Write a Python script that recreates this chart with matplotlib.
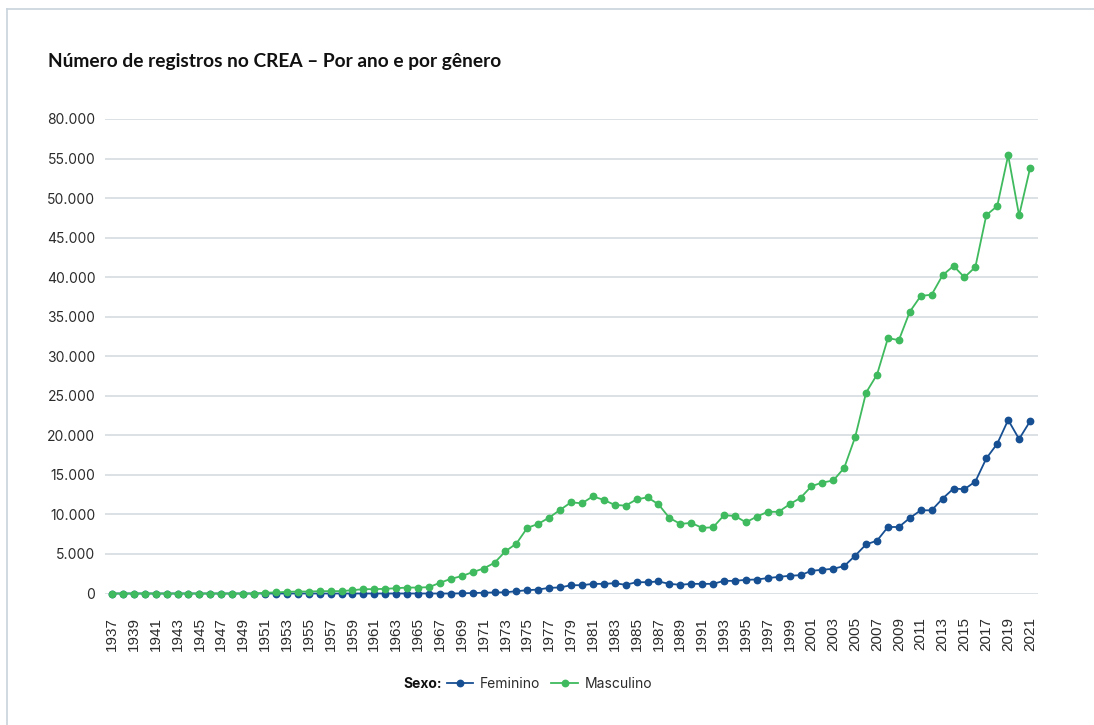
import numpy as np
import matplotlib
matplotlib.use("Agg")
import matplotlib.pyplot as plt
from matplotlib.lines import Line2D

plt.rcParams['font.family'] = ['Inter', 'DejaVu Sans']

years = list(range(1937, 2022))

# Feminino (valores estimados do gráfico)
feminino = [0] * 14 + [
    0, 0, 0, 0, 0, 0, 0, 0, 0, 0,          # 1951-1960
    0, 0, 0, 0, 0, 0, 0, 0, 20, 60,        # 1961-1970
    100, 130, 150, 290, 420, 500, 720, 760, 1050, 1050,   # 1971-1980
    1220, 1220, 1300, 1100, 1430, 1430, 1520, 1220, 1100, 1220,  # 1981-1990
    1220, 1220, 1600, 1600, 1730, 1770, 1950, 2100, 2240, 2320,  # 1991-2000
    2870, 3000, 3130, 3470, 4780, 6210, 6680, 8410, 8410, 9550,  # 2001-2010
    10520, 10520, 12000, 13270, 13190, 14160, 17080, 18940, 21940, 19530,  # 2011-2020
    21770,                                  # 2021
]

# Masculino
masculino = [0] * 14 + [
    100, 130, 210, 250, 250, 290, 300, 300, 420, 550,          # 1951-1960
    550, 590, 670, 750, 750, 800, 1350, 1850, 2200, 2700,      # 1961-1970
    3160, 3880, 5340, 6310, 8300, 8800, 9600, 10570, 11530, 11400,  # 1971-1980
    12290, 11830, 11200, 11110, 11900, 12160, 11280, 9560, 8800, 8930,  # 1981-1990
    8300, 8370, 9890, 9810, 9000, 9720, 10330, 10330, 11280, 12090,  # 1991-2000
    13570, 14030, 14290, 15890, 19780, 25400, 27680, 32290, 32040, 35630,  # 2001-2010
    37620, 37790, 40240, 41420, 39980, 41290, 47840, 48990, 55410, 47800,  # 2011-2020
    53760,                                  # 2021
]

y_ticks = list(range(0, 60001, 5000))
y_labels = ['0', '5.000', '10.000', '15.000', '20.000', '25.000', '30.000',
            '35.000', '40.000', '45.000', '50.000', '55.000', '80.000']

blue = '#174f93'
green = '#3fba5e'

fig = plt.figure(figsize=(10.94, 7.25), dpi=100)
ax = fig.add_axes([105 / 1094, 1 - 593.5 / 725, (1038 - 105) / 1094, (593.5 - 119) / 725])

ax.plot(years, feminino, color=blue, marker='o', markersize=4.6, linewidth=1.3,
        label='Feminino', clip_on=False, zorder=3)
ax.plot(years, masculino, color=green, marker='o', markersize=4.6, linewidth=1.3,
        label='Masculino', clip_on=False, zorder=4)

ax.set_xlim(1936.36, 2021.73)
ax.set_ylim(0, 60000)
ax.set_yticks(y_ticks)
ax.set_yticklabels(y_labels)
ax.set_xticks(years[::2])
ax.set_xticklabels([str(y) for y in years[::2]], rotation=90,
                   family=['Liberation Sans', 'DejaVu Sans'], fontsize=11)
ax.tick_params(axis='both', length=0, colors='#2b2b2b')
ax.tick_params(axis='y', pad=7, labelsize=10)
ax.tick_params(axis='x', pad=17)
ax.grid(axis='y', color='#d5dbe0', linewidth=1.2)
ax.set_axisbelow(True)
for s in ax.spines.values():
    s.set_visible(False)

fig.text(48 / 1094, 1 - 62 / 725, 'Número de registros no CREA – Por ano e por gênero',
         fontsize=13.8, fontweight='bold', color='#111111', va='center', ha='left',
         family=['Lato', 'DejaVu Sans'])

# borda do cartão
fig.add_artist(Line2D([7 / 1094, 7 / 1094], [0, 1 - 9 / 725], color='#c9d3dc', linewidth=1.2))
fig.add_artist(Line2D([7 / 1094, 1], [1 - 9 / 725, 1 - 9 / 725], color='#c9d3dc', linewidth=1.2))

fig.text(403 / 1094, 1 - 684 / 725, 'Sexo:', fontsize=10, fontweight='bold',
         va='center', ha='left', color='#111111')
fig.legend(loc='center left', bbox_to_anchor=(434 / 1094, 1 - 684 / 725), ncol=2,
           frameon=False, fontsize=10, handlelength=1.9, handletextpad=0.5,
           columnspacing=0.8, labelcolor='#2b2b2b')

fig.savefig('out.png', dpi=100)
